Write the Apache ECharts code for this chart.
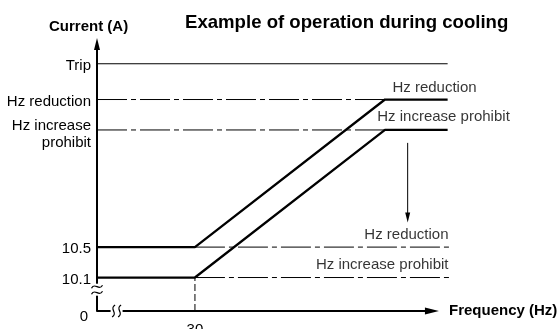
<!DOCTYPE html>
<html>
<head>
<meta charset="utf-8">
<script src="https://cdn.jsdelivr.net/npm/echarts@6/dist/echarts.min.js"></script>
<style>
  html, body { margin: 0; padding: 0; background: #fff; }
  #chart { width: 558px; height: 329px; }
</style>
</head>
<body>
<div id="chart"></div>
<script>
// Schematic axis ranges (both axes are broken near the origin)
const freqAxisRange = [25, 42.97];
const currentAxisRange = [9.66, 13.17];
const freqArrowEnd = 42.1;

// Axis labels
const currentTicks = [9.66, 10.1, 10.5, 12.04, 12.44, 12.91];
const currentTickLabels = ['0', '10.1', '10.5', 'Hz increase\nprohibit', 'Hz reduction', 'Trip'];
const freqTicks = [30];
const freqTickLabels = ['30'];

// Operating curves: thresholds shift down once frequency passes 30 Hz
const curveFreq = [25, 30, 39.7, 42.9];
const reductionCurve = [10.5, 10.5, 12.44, 12.44];
const prohibitCurve = [10.1, 10.1, 12.04, 12.04];

// Reference levels
const tripLevel = 12.91;
const tripFreq = [25, 42.9];
const normalLevels = [12.44, 12.04];
const normalFreq = [25, 39.7];
const shiftedLevels = [10.5, 10.1];
const shiftedFreq = [30, 42.97];
const startFreq = 30;

// Arrow showing the shift of the thresholds
const shiftArrowFreq = 40.86;
const shiftArrowCurrent = [11.87, 10.89];

// Annotations
const noteTexts = ['Hz reduction', 'Hz increase prohibit', 'Hz reduction', 'Hz increase prohibit'];
const noteFreq = [42.23, 42.69, 42.97, 42.97];
const noteCurrent = [12.594, 12.213, 10.66, 10.265];

const FONT = 'Liberation Sans, Arial, sans-serif';
const chart = echarts.init(document.getElementById('chart'), null, { renderer: 'canvas' });

function segment(xs, ys, style) {
  return {
    type: 'line',
    data: xs.map((x, i) => [x, ys[i]]),
    showSymbol: false,
    clip: false,
    silent: true,
    lineStyle: Object.assign({ color: '#000', width: 1 }, style),
    z: 3
  };
}

const dashDot = { width: 1, type: [30, 4, 5, 4] };
const series = [];

// frequency axis line with its arrow head
series.push({
  type: 'line',
  clip: false,
  silent: true,
  lineStyle: { color: '#000', width: 2 },
  itemStyle: { color: '#000' },
  data: [
    { value: [freqAxisRange[0], currentAxisRange[0]], symbol: 'none' },
    { value: [freqArrowEnd, currentAxisRange[0]], symbol: 'triangle', symbolSize: [7, 14], symbolRotate: -90 }
  ],
  z: 2
});

series.push(segment(tripFreq, [tripLevel, tripLevel], { width: 1.1 }));
normalLevels.forEach(v => series.push(segment(normalFreq, [v, v], dashDot)));
shiftedLevels.forEach(v => series.push(segment(shiftedFreq, [v, v], dashDot)));
series.push(segment([startFreq, startFreq], [currentAxisRange[0], shiftedLevels[1]], { width: 1, type: [7, 3] }));
series.push(segment(curveFreq, reductionCurve, { width: 2.3 }));
series.push(segment(curveFreq, prohibitCurve, { width: 2.3 }));

// shift arrow
series.push({
  type: 'line',
  clip: false,
  silent: true,
  lineStyle: { color: '#000', width: 1 },
  itemStyle: { color: '#000' },
  data: [
    { value: [shiftArrowFreq, shiftArrowCurrent[0]], symbol: 'none' },
    { value: [shiftArrowFreq, shiftArrowCurrent[1]], symbol: 'triangle', symbolSize: [5, 10], symbolRotate: 180 }
  ],
  z: 4
});

// annotation labels
series.push({
  type: 'scatter',
  clip: false,
  silent: true,
  symbolSize: 1,
  itemStyle: { color: 'rgba(0,0,0,0)' },
  data: noteTexts.map((t, i) => ({
    value: [noteFreq[i], noteCurrent[i]],
    label: {
      show: true,
      formatter: t,
      position: i < 2 ? 'inside' : 'left',
      distance: 0,
      color: '#000',
      fontFamily: FONT,
      fontSize: 15
    }
  })),
  z: 5
});

const labelRich = { fontSize: 15, fontFamily: FONT, color: '#000' };

const option = {
  animation: false,
  backgroundColor: '#fff',
  textStyle: { fontFamily: FONT, color: '#000' },
  title: [
    { text: 'Current (A)', left: 49, top: 19, padding: 0,
      textStyle: { fontFamily: FONT, fontSize: 15, fontWeight: 'bold', color: '#000' } },
    { text: 'Example of operation during cooling', left: 185, top: 13, padding: 0,
      textStyle: { fontFamily: FONT, fontSize: 18.6, fontWeight: 'bold', color: '#000' } }
  ],
  grid: { left: 97, right: 109, top: 44, bottom: 18, containLabel: false, outerBoundsMode: 'none' },
  xAxis: {
    type: 'value',
    min: freqAxisRange[0],
    max: freqAxisRange[1],
    name: 'Frequency (Hz)',
    nameLocation: 'end',
    nameGap: 0,
    nameTextStyle: { fontFamily: FONT, fontSize: 15, fontWeight: 'bold', color: '#000' },
    axisLine: { show: false },
    axisTick: { show: false },
    splitLine: { show: false },
    axisLabel: {
      customValues: freqTicks,
      formatter: v => freqTickLabels[freqTicks.indexOf(v)] || '',
      margin: 11, fontSize: 15, color: '#000', fontFamily: FONT
    }
  },
  yAxis: {
    type: 'value',
    min: currentAxisRange[0],
    max: currentAxisRange[1],
    axisLine: { lineStyle: { color: '#000', width: 2 }, symbol: ['none', 'triangle'], symbolSize: [6, 12] },
    axisTick: { show: false },
    splitLine: { show: false },
    axisLabel: {
      customValues: currentTicks,
      margin: 6, fontSize: 15, color: '#000', fontFamily: FONT,
      formatter: v => {
        const i = currentTicks.indexOf(v);
        const t = currentTickLabels[i] || '';
        if (i === 0) return '{zero|' + t + '}';
        if (t.indexOf('\n') >= 0) {
          const parts = t.split('\n');
          return '{first|' + parts[0] + '}\n{second|' + parts[1] + '}';
        }
        return '{n|' + t + '}';
      },
      rich: {
        n: Object.assign({ padding: [4, 0, 0, 0] }, labelRich),
        zero: Object.assign({ padding: [12, 3, 0, 0] }, labelRich),
        first: Object.assign({ padding: [9, 0, 0, 0] }, labelRich),
        second: Object.assign({ padding: [2, 0, 0, 0] }, labelRich)
      }
    }
  },
  series: series
};
chart.setOption(option);

// Axis break marks near the origin
const yBreak = chart.convertToPixel({ gridIndex: 0 }, [freqAxisRange[0], 9.94]);
const xBreak = chart.convertToPixel({ gridIndex: 0 }, [26, currentAxisRange[0]]);
const wave = { stroke: '#000', lineWidth: 1.3, fill: null };
const graphics = [];
graphics.push({ type: 'rect', shape: { x: yBreak[0] - 4, y: yBreak[1] - 6, width: 8, height: 12 }, style: { fill: '#fff' }, z: 100 });
[-3, 3].forEach(d => {
  const cy = yBreak[1] + d;
  graphics.push({ type: 'bezierCurve', z: 101, style: wave,
    shape: { x1: yBreak[0] - 5.5, y1: cy + 1.5, cpx1: yBreak[0] - 2, cpy1: cy - 5, cpx2: yBreak[0] + 2, cpy2: cy + 5, x2: yBreak[0] + 5.5, y2: cy - 1.5 } });
});
graphics.push({ type: 'rect', shape: { x: xBreak[0] - 6, y: xBreak[1] - 4, width: 12, height: 8 }, style: { fill: '#fff' }, z: 100 });
[-3, 3].forEach(d => {
  const cx = xBreak[0] + d;
  graphics.push({ type: 'bezierCurve', z: 101, style: wave,
    shape: { x1: cx + 1.5, y1: xBreak[1] - 6, cpx1: cx - 5, cpy1: xBreak[1] - 2, cpx2: cx + 5, cpy2: xBreak[1] + 2, x2: cx - 1.5, y2: xBreak[1] + 6 } });
});
chart.setOption({ graphic: { elements: graphics } });
</script>
</body>
</html>
